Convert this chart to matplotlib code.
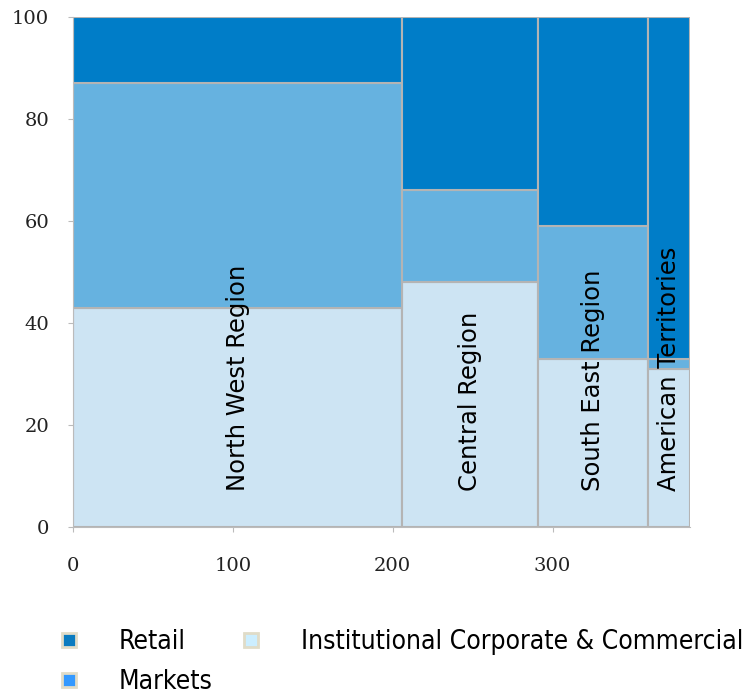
import matplotlib.pyplot as plt
from matplotlib.lines import Line2D
from matplotlib import font_manager
import numpy as np

# Date
regions = ["North West Region", "Central Region", "South East Region", "American Territories"]
widths = [206, 85, 69, 26]
institutional = [43, 48, 33, 31]
markets = [44, 18, 26, 2]
retail = [13, 34, 41, 67]

series = [
    ("Institutional Corporate & Commercial", institutional, "#CDE4F3"),
    ("Markets", markets, "#66B2E0"),
    ("Retail", retail, "#007DC8"),
]

fig = plt.figure(figsize=(7.51, 6.94), dpi=100)
ax = fig.add_axes([73 / 751, 167 / 694, 617 / 751, 510 / 694])

lefts = np.concatenate([[0], np.cumsum(widths)[:-1]])
bottom = np.zeros(len(widths))
for name, vals, color in series:
    ax.bar(lefts, vals, width=widths, bottom=bottom, align="edge",
           color=color, edgecolor="#B4B4B4", linewidth=1.5)
    bottom += vals

# Etichete regiuni
for left, w, name in zip(lefts, widths, regions):
    ax.text(left + w / 2, 7, name, rotation=90, ha="center", va="bottom",
            fontsize=17.5, family="DejaVu Sans")

ax.set_xlim(0, sum(widths))
ax.set_ylim(0, 100)
ax.set_xticks([0, 100, 200, 300])
ax.set_yticks(range(0, 101, 20))
for s in ["top", "right"]:
    ax.spines[s].set_visible(False)
for s in ["left", "bottom"]:
    ax.spines[s].set_color("#BBBBBB")
ax.tick_params(colors="#BBBBBB", labelcolor="#222222", length=3.6)
ax.tick_params(axis="x", pad=18)
ax.tick_params(axis="y", pad=13.5)
for lab in ax.get_xticklabels() + ax.get_yticklabels():
    lab.set_family("DejaVu Serif")
    lab.set_fontsize(14)

# Legenda
def square(color):
    return Line2D([], [], ls="", marker="s", ms=10, mfc=color, mec="#E0DCC8", mew=2)

handles = [square("#0A7BC0"), square("#3399FF"), square("#CCEEFF")]
labels = ["Retail", "Markets", "Institutional Corporate & Commercial"]
prop = font_manager.FontProperties(family=["DejaVu Sans"], stretch="condensed", size=19)
fig.legend(handles, labels, ncol=2, loc="center left", bbox_to_anchor=(56 / 751, 0.046),
           frameon=False, borderpad=0, borderaxespad=0, handlelength=1,
           handletextpad=1.39, columnspacing=0.95, labelspacing=0.55, prop=prop)

fig.savefig("out.png", dpi=100)
